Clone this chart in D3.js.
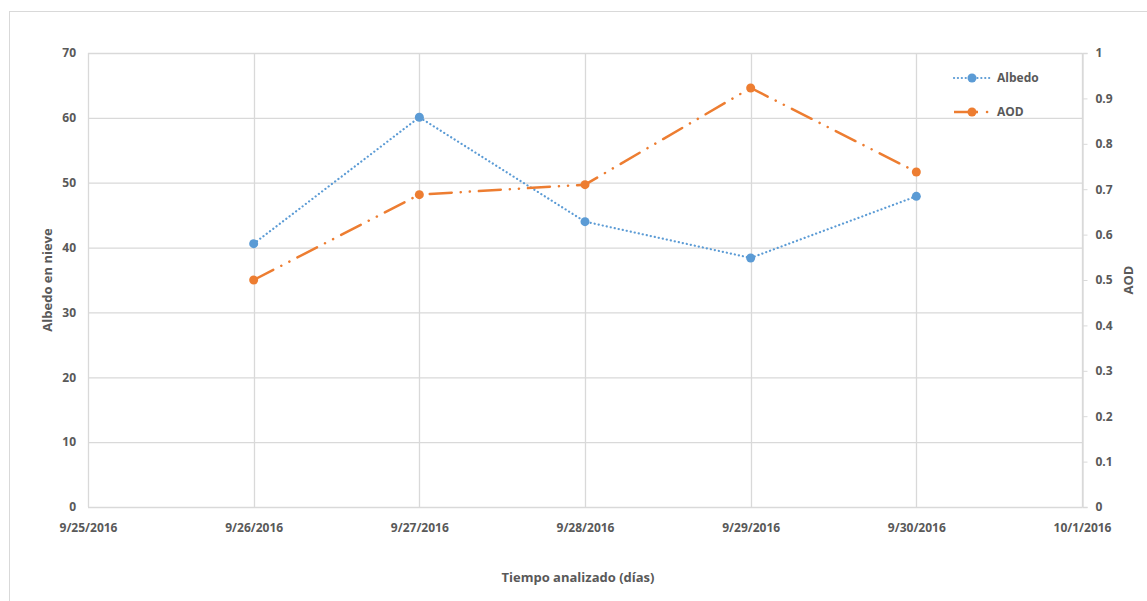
<!DOCTYPE html>
<html><head><meta charset="utf-8">
<script src="https://cdn.jsdelivr.net/npm/d3@7"></script>
<style>body{margin:0;background:#fff}svg{display:block}text{font-family:"Open Sans",Arial,sans-serif;font-weight:700;fill:#595959}</style>
</head><body><svg id="c" width="1147" height="601"></svg>
<script>
const dates = ["2016-09-26","2016-09-27","2016-09-28","2016-09-29","2016-09-30"];
const albedo = [40.6, 60.1, 44.0, 38.4, 47.9];
const aod = [0.50, 0.688, 0.71, 0.923, 0.738];
const xTickDates = ["2016-09-25","2016-09-26","2016-09-27","2016-09-28","2016-09-29","2016-09-30","2016-10-01"];
const leftTicks = [0,10,20,30,40,50,60,70];
const rightTicks = [0,0.1,0.2,0.3,0.4,0.5,0.6,0.7,0.8,0.9,1];

const parse = d3.utcParse("%Y-%m-%d");
const fmt = d3.utcFormat("%-m/%-d/%Y");
const svg = d3.select("#c");
const L=88,R=1082,T=53,B=507;
svg.append("rect").attr("x",9.5).attr("y",11.5).attr("width",1150).attr("height",600).attr("fill","none").attr("stroke","#d9d9d9");
const x = d3.scaleUtc().domain([parse(xTickDates[0]),parse(xTickDates[6])]).range([L,R]);
const yL = d3.scaleLinear().domain([0,70]).range([B,T]);
const yR = d3.scaleLinear().domain([0,1]).range([B,T]);
const g = svg.append("g");
g.selectAll(".hg").data(leftTicks).join("line").attr("x1",L).attr("x2",R).attr("y1",d=>yL(d)+.5).attr("y2",d=>yL(d)+.5).attr("stroke","#d9d9d9").attr("stroke-width",1.3);
g.selectAll(".vg").data(xTickDates).join("line").attr("y1",T).attr("y2",B).attr("x1",d=>Math.round(x(parse(d)))+.5).attr("x2",d=>Math.round(x(parse(d)))+.5).attr("stroke","#d9d9d9").attr("stroke-width",1.3);
const la = svg.append("g").attr("transform",`translate(${L},0)`).call(d3.axisLeft(yL).tickValues(leftTicks).tickSize(0).tickPadding(12));
la.select(".domain").remove();
la.selectAll("text").style("font-size","12px");
const ra = svg.append("g").attr("transform",`translate(${R+.5},0)`).call(d3.axisRight(yR).tickValues(rightTicks).tickSize(5).tickPadding(8).tickFormat(d3.format("~g")));
ra.select(".domain").attr("stroke","#d9d9d9").attr("stroke-width",1.3);
ra.selectAll("line").attr("stroke","#d9d9d9");
ra.selectAll("text").style("font-size","12px");
const xa = svg.append("g").attr("transform",`translate(0,${B})`).call(d3.axisBottom(x).tickValues(xTickDates.map(parse)).tickFormat(fmt).tickSize(0).tickPadding(16));
xa.select(".domain").remove();
xa.selectAll("text").style("font-size","12px");
svg.append("text").attr("transform","translate(52,280) rotate(-90)").attr("text-anchor","middle").style("font-size","13px").text("Albedo en nieve");
svg.append("text").attr("transform","translate(1133,280) rotate(-90)").attr("text-anchor","middle").style("font-size","13px").text("AOD");
svg.append("text").attr("x",578).attr("y",582).attr("text-anchor","middle").style("font-size","13px").text("Tiempo analizado  (días)");
const blue="#5B9BD5", orange="#ED7D31";
const da = dates.map((d,i)=>({x:parse(d),a:albedo[i],o:aod[i]}));
svg.append("path").datum(da).attr("fill","none").attr("stroke",blue).attr("stroke-width",2.2).attr("stroke-dasharray","0.1 4").attr("stroke-linecap","round")
 .attr("d",d3.line().x(d=>x(d.x)).y(d=>yL(d.a)));
svg.append("path").datum(da).attr("fill","none").attr("stroke",orange).attr("stroke-width",2.5).attr("stroke-dasharray","22 9 0.1 9 0.1 9").attr("stroke-linecap","round")
 .attr("d",d3.line().x(d=>x(d.x)).y(d=>yR(d.o)));
svg.selectAll(".pa").data(da).join("circle").attr("cx",d=>x(d.x)).attr("cy",d=>yL(d.a)).attr("r",4.5).attr("fill",blue);
svg.selectAll(".po").data(da).join("circle").attr("cx",d=>x(d.x)).attr("cy",d=>yR(d.o)).attr("r",4.5).attr("fill",orange);
const lg = svg.append("g");
lg.append("line").attr("x1",954).attr("x2",990).attr("y1",78).attr("y2",78).attr("stroke",blue).attr("stroke-width",2.2).attr("stroke-dasharray","0.1 3.8").attr("stroke-linecap","round");
lg.append("circle").attr("cx",972).attr("cy",78).attr("r",4.5).attr("fill",blue);
lg.append("text").attr("x",997).attr("y",82).style("font-size","12px").text("Albedo");
lg.append("line").attr("x1",954).attr("x2",978).attr("y1",112).attr("y2",112).attr("stroke",orange).attr("stroke-width",2.5);
lg.append("line").attr("x1",987).attr("x2",987.1).attr("y1",112).attr("y2",112).attr("stroke",orange).attr("stroke-width",2.5).attr("stroke-linecap","round");
lg.append("circle").attr("cx",972).attr("cy",112).attr("r",4.5).attr("fill",orange);
lg.append("text").attr("x",997).attr("y",116).style("font-size","12px").text("AOD");
</script></body></html>
